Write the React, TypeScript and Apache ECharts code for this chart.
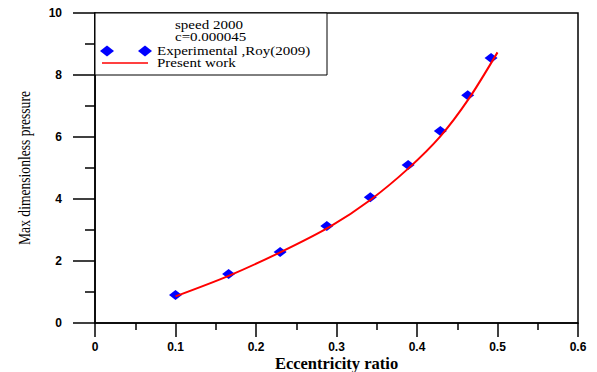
import React, { useEffect, useRef } from "react";
import * as echarts from "echarts";

const expX = [0.1, 0.166, 0.23, 0.288, 0.342, 0.389, 0.429, 0.463, 0.492];
const expY = [0.9, 1.58, 2.29, 3.13, 4.06, 5.1, 6.19, 7.35, 8.55];
const fitX = [0.1, 0.166, 0.23, 0.292, 0.342, 0.389, 0.429, 0.464, 0.5];
const fitY = [0.86, 1.52, 2.28, 3.11, 3.97, 4.98, 6.02, 7.22, 8.73];
const titleLines = ["speed 2000", "c=0.000045"];
const seriesNames = ["Experimental ,Roy(2009)", "Present work"];
const xName = "Eccentricity ratio";
const yName = "Max dimensionless pressure";

export default function App() {
  const ref = useRef<HTMLDivElement>(null);
  useEffect(() => {
    const chart = echarts.init(ref.current!, null, { renderer: "svg" });
    const serif = "Liberation Serif";
    const tickFont = { fontFamily: "Liberation Sans", fontWeight: "bold", fontSize: 12, color: "#000" };
    const boxText = (text: string, x: number, y: number) => ({
      type: "text",
      x,
      y,
      scaleX: 1.25,
      style: { text, fontFamily: serif, fontSize: 12, fill: "#000", align: "left", verticalAlign: "middle" },
      z: 10,
    });
    const diamond = (cx: number, cy: number) => ({
      type: "polygon",
      shape: { points: [[cx - 7, cy], [cx, cy - 5.5], [cx + 7, cy], [cx, cy + 5.5]] },
      style: { fill: "#0000ff" },
      z: 10,
    });
    chart.setOption({
      animation: false,
      backgroundColor: "#fff",
      grid: {
        left: 95,
        right: 19,
        top: 13,
        bottom: 49,
        show: true,
        borderColor: "#000",
        borderWidth: 1.5,
        outerBoundsMode: "none",
        containLabel: false,
      },
      xAxis: {
        type: "value",
        min: 0,
        max: 0.6,
        interval: 0.1,
        name: xName,
        nameLocation: "middle",
        nameGap: 32,
        nameMoveOverlap: false,
        nameTextStyle: { fontFamily: serif, fontSize: 16.5, lineHeight: 16, fontWeight: "bold", color: "#000" },
        axisLine: { lineStyle: { color: "#000", width: 1.5 } },
        axisTick: { length: 14, lineStyle: { color: "#000", width: 1.5 } },
        minorTick: { show: true, splitNumber: 2, length: 7, lineStyle: { color: "#000", width: 1.5 } },
        splitLine: { show: false },
        axisLabel: { ...tickFont, margin: 18 },
      },
      yAxis: {
        type: "value",
        min: 0,
        max: 10,
        interval: 2,
        axisLine: { lineStyle: { color: "#000", width: 1.5 } },
        axisTick: { length: 22, lineStyle: { color: "#000", width: 1.5 } },
        minorTick: { show: true, splitNumber: 2, length: 10, lineStyle: { color: "#000", width: 1.5 } },
        splitLine: { show: false },
        axisLabel: { ...tickFont, margin: 33 },
      },
      graphic: [
        {
          type: "rect",
          shape: { x: 95, y: 13, width: 232, height: 62 },
          style: { fill: "#fff", stroke: "#000", lineWidth: 1 },
          z: 9,
        },
        boxText(titleLines[0], 175, 25),
        boxText(titleLines[1], 175, 37.5),
        diamond(107, 51),
        diamond(145, 51),
        boxText(seriesNames[0], 157, 51),
        {
          type: "line",
          shape: { x1: 102, y1: 63, x2: 148, y2: 63 },
          style: { stroke: "#ff0000", lineWidth: 1.6 },
          z: 10,
        },
        boxText(seriesNames[1], 157, 63),
        {
          type: "text",
          x: 24,
          y: 168,
          rotation: Math.PI / 2,
          scaleX: 0.8,
          style: { text: yName, fontFamily: serif, fontSize: 17, fill: "#000", align: "center", verticalAlign: "middle" },
          z: 10,
        },
      ],
      series: [
        {
          name: seriesNames[0],
          type: "scatter",
          symbol: "diamond",
          symbolSize: [13, 10],
          itemStyle: { color: "#0000ff", opacity: 1 },
          data: expX.map((x, i) => [x, expY[i]]),
          z: 3,
        },
        {
          name: seriesNames[1],
          type: "line",
          smooth: 0.3,
          showSymbol: false,
          symbol: "none",
          lineStyle: { color: "#ff0000", width: 2 },
          itemStyle: { color: "#ff0000" },
          data: fitX.map((x, i) => [x, fitY[i]]),
          z: 4,
        },
      ],
    });
    return () => chart.dispose();
  }, []);
  return <div ref={ref} style={{ position: "fixed", left: 0, top: 0, width: 597, height: 372 }} />;
}
